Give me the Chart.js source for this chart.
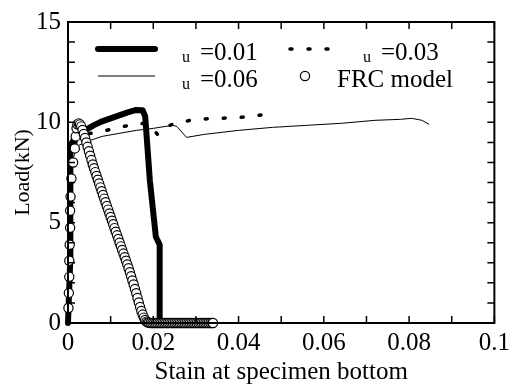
<!DOCTYPE html>
<html>
<head>
<meta charset="utf-8">
<script src="https://cdn.jsdelivr.net/npm/chart.js@4"></script>
<style>
  html, body { margin: 0; padding: 0; background: #fff; }
  #wrap { width: 515px; height: 391px; }
</style>
</head>
<body>
<div id="wrap"><canvas id="loadChart"></canvas></div>
<script>
// u = 0.01 (thick line)
const strain001 = [0, 0.0005, 0.0005, 0.0006, 0.0010, 0.0020, 0.0040, 0.0060, 0.0080, 0.0100, 0.0120, 0.0140, 0.0160, 0.0175, 0.0181, 0.0192, 0.0206, 0.0215, 0.0215];
const load001   = [0, 3.0, 6.5, 8.5, 9.0, 9.35, 9.6, 9.85, 10.05, 10.2, 10.35, 10.5, 10.62, 10.6, 10.3, 7.1, 4.3, 3.9, 0];

// u = 0.03 (dotted)
const strain003 = [0, 0.0005, 0.0010, 0.0020, 0.0040, 0.0080, 0.0120, 0.0168, 0.0190, 0.0210, 0.0222, 0.0250, 0.0300, 0.0355, 0.0407, 0.0465];
const load003   = [0, 5.0, 8.5, 9.1, 9.4, 9.55, 9.75, 9.95, 9.9, 9.4, 9.7, 9.95, 10.15, 10.2, 10.25, 10.4];

// u = 0.06 (thin line)
const strain006 = [0, 0.0004, 0.0010, 0.0020, 0.0045, 0.0080, 0.0120, 0.0160, 0.0200, 0.0245, 0.0255, 0.0278, 0.0320, 0.0400, 0.0480, 0.0560, 0.0640, 0.0720, 0.0780, 0.0806, 0.0830, 0.0847];
const load006   = [0, 4.0, 8.0, 8.8, 9.05, 9.3, 9.45, 9.6, 9.7, 9.85, 9.8, 9.25, 9.4, 9.6, 9.75, 9.85, 9.95, 10.1, 10.15, 10.2, 10.1, 9.9];

// FRC model (open circles)
const strainFRC = [0.0001, 0.0002, 0.0003, 0.0003, 0.0004, 0.0005, 0.0005, 0.0006, 0.0008, 0.0012, 0.0016, 0.0018, 0.0020, 0.0022, 0.0025,
  0.0028, 0.0031, 0.0034, 0.0037, 0.0040, 0.0043, 0.0046, 0.0049, 0.0052, 0.0055, 0.0058, 0.0061, 0.0064, 0.0067, 0.0070,
  0.0073, 0.0076, 0.0079, 0.0082, 0.0085, 0.0088, 0.0091, 0.0094, 0.0097, 0.0100, 0.0103, 0.0106, 0.0109, 0.0112, 0.0115,
  0.0118, 0.0121, 0.0124, 0.0127, 0.0130, 0.0133, 0.0136, 0.0139, 0.0142, 0.0145, 0.0148, 0.0151, 0.0154, 0.0157, 0.0160,
  0.0163, 0.0166, 0.0169, 0.0172, 0.0175, 0.0178, 0.0181, 0.0184, 0.0187, 0.0190,
  0.0194, 0.0198, 0.0202, 0.0206, 0.0210, 0.0214, 0.0218, 0.0222, 0.0226, 0.0230, 0.0234, 0.0238, 0.0242, 0.0246, 0.0250,
  0.0254, 0.0258, 0.0262, 0.0266, 0.0270, 0.0274, 0.0278, 0.0282, 0.0286, 0.0290, 0.0294, 0.0298, 0.0302, 0.0306, 0.0310,
  0.0314, 0.0318, 0.0322, 0.0326, 0.0330, 0.0334, 0.0338, 0.0340];
const loadFRC = [0.75, 1.5, 2.3, 3.1, 3.9, 4.75, 5.6, 6.3, 7.2, 8.0, 8.7, 9.3, 9.7, 9.9, 9.95,
  9.9, 9.8, 9.62, 9.42, 9.22, 9.0, 8.78, 8.56, 8.34, 8.12, 7.9, 7.71, 7.52, 7.33, 7.14,
  6.95, 6.76, 6.57, 6.38, 6.2, 6.02, 5.83, 5.65, 5.46, 5.28, 5.1, 4.92, 4.73, 4.55, 4.37,
  4.19, 4.0, 3.82, 3.64, 3.46, 3.28, 3.1, 2.92, 2.73, 2.53, 2.33, 2.12, 1.92, 1.7, 1.48,
  1.25, 1.02, 0.8, 0.6, 0.42, 0.27, 0.15, 0.07, 0.03, 0.01,
  0, 0, 0, 0, 0, 0, 0, 0, 0, 0, 0, 0, 0, 0, 0,
  0, 0, 0, 0, 0, 0, 0, 0, 0, 0, 0, 0, 0, 0, 0,
  0, 0, 0, 0, 0, 0, 0, 0];

const xTickLabels = [0, 0.02, 0.04, 0.06, 0.08, 0.1];
const yTickLabels = [0, 5, 10, 15];
const xMinorTicks = [0, 0.01, 0.02, 0.03, 0.04, 0.05, 0.06, 0.07, 0.08, 0.09, 0.1];
const yMinorTicks = [0, 1, 2, 3, 4, 5, 6, 7, 8, 9, 10, 11, 12, 13, 14, 15];

const FONT = "'Liberation Serif', 'Times New Roman', serif";

function pts(xs, ys) {
    return xs.map((x, i) => ({ x: x, y: ys[i] }));
}

// box with inward ticks on all four sides
const framePlugin = {
    id: 'frame',
    afterDraw(chart) {
        const { ctx, chartArea: a, scales: { x, y } } = chart;
        ctx.save();
        ctx.strokeStyle = '#000';
        ctx.lineWidth = 1.5;
        ctx.beginPath();
        xMinorTicks.forEach(v => {
            const px = x.getPixelForValue(v);
            ctx.moveTo(px, a.bottom); ctx.lineTo(px, a.bottom - 7);
            ctx.moveTo(px, a.top); ctx.lineTo(px, a.top + 7);
        });
        yMinorTicks.forEach(v => {
            const py = y.getPixelForValue(v);
            ctx.moveTo(a.left, py); ctx.lineTo(a.left + 7, py);
            ctx.moveTo(a.right, py); ctx.lineTo(a.right - 7, py);
        });
        ctx.stroke();
        ctx.lineWidth = 2;
        ctx.strokeRect(a.left, a.top, a.right - a.left, a.bottom - a.top);
        ctx.restore();
    }
};

// legend inside the plot, with subscript "u"
const legendPlugin = {
    id: 'innerLegend',
    afterDraw(chart) {
        const ctx = chart.ctx;
        const items = [
            { ds: 0, x: 98, y: 49, label: '=0.01' },
            { ds: 1, x: 290, y: 49, label: '=0.03' },
            { ds: 2, x: 98, y: 76, label: '=0.06' },
            { ds: 3, x: 290, y: 76, label: 'FRC model' }
        ];
        ctx.save();
        items.forEach(it => {
            const d = chart.data.datasets[it.ds];
            let textX;
            if (d.showLine) {
                ctx.strokeStyle = d.borderColor;
                ctx.lineWidth = d.borderWidth;
                ctx.setLineDash(d.borderDash || []);
                ctx.lineCap = d.borderCapStyle || 'butt';
                ctx.beginPath();
                ctx.moveTo(it.x, it.y);
                ctx.lineTo(it.x + (d.borderDash ? 40 : 57), it.y);
                ctx.stroke();
                ctx.setLineDash([]);
                textX = it.x + (it.x < 200 ? 84 : 73);
            } else {
                ctx.beginPath();
                ctx.arc(it.x + 15, it.y, d.pointRadius, 0, Math.PI * 2);
                ctx.fillStyle = '#fff';
                ctx.fill();
                ctx.strokeStyle = '#000';
                ctx.lineWidth = 1.2;
                ctx.stroke();
                textX = it.x + 47;
            }
            ctx.fillStyle = '#000';
            ctx.textBaseline = 'alphabetic';
            if (d.showLine) {
                ctx.font = '16px ' + FONT;
                ctx.fillText('u', textX, it.y + 13);
                textX += 18;
            }
            ctx.font = '25px ' + FONT;
            ctx.fillText(it.label, textX, it.y + 11);
        });
        ctx.restore();
    }
};

function renderLoadChart() {
    const ctx = document.getElementById('loadChart').getContext('2d');

    new Chart(ctx, {
        type: 'scatter',
        data: {
            datasets: [
                {
                    label: 'u=0.01',
                    data: pts(strain001, load001),
                    showLine: true,
                    borderColor: '#000',
                    borderWidth: 6,
                    borderJoinStyle: 'round',
                    borderCapStyle: 'round',
                    pointRadius: 0,
                    clip: false,
                    order: 1
                },
                {
                    label: 'u=0.03',
                    data: pts(strain003, load003),
                    showLine: true,
                    borderColor: '#000',
                    borderWidth: 3.5,
                    borderDash: [2, 16],
                    borderCapStyle: 'round',
                    pointRadius: 0,
                    clip: false,
                    order: 2
                },
                {
                    label: 'u=0.06',
                    data: pts(strain006, load006),
                    showLine: true,
                    borderColor: '#000',
                    borderWidth: 1,
                    pointRadius: 0,
                    clip: false,
                    order: 3
                },
                {
                    label: 'FRC model',
                    data: pts(strainFRC, loadFRC),
                    showLine: false,
                    pointRadius: 4.6,
                    pointBackgroundColor: '#fff',
                    pointBorderColor: '#000',
                    pointBorderWidth: 1.2,
                    clip: false,
                    order: 0
                }
            ]
        },
        options: {
            responsive: true,
            maintainAspectRatio: false,
            animation: false,
            layout: { padding: { top: 20, right: 19, left: 0, bottom: 0 } },
            plugins: {
                legend: { display: false },
                tooltip: { enabled: false }
            },
            scales: {
                x: {
                    type: 'linear',
                    min: 0,
                    max: 0.1,
                    grid: { display: false, drawTicks: false },
                    border: { display: false },
                    afterBuildTicks: s => { s.ticks = xTickLabels.map(v => ({ value: v })); },
                    afterFit: s => { s.height = 68; },
                    ticks: {
                        color: '#000',
                        padding: 5,
                        maxRotation: 0,
                        font: { family: FONT, size: 25 },
                        callback: v => String(+v.toFixed(2))
                    },
                    title: {
                        display: true,
                        text: 'Stain at specimen bottom',
                        color: '#000',
                        font: { family: FONT, size: 25 },
                        padding: { top: 0, bottom: 4 }
                    }
                },
                y: {
                    min: 0,
                    max: 15,
                    grid: { display: false, drawTicks: false },
                    border: { display: false },
                    afterBuildTicks: s => { s.ticks = yTickLabels.map(v => ({ value: v })); },
                    afterFit: s => { s.width = 68; },
                    ticks: {
                        color: '#000',
                        padding: 7,
                        font: { family: FONT, size: 25 }
                    },
                    title: {
                        display: true,
                        text: 'Load(kN)',
                        color: '#000',
                        font: { family: FONT, size: 22 },
                        padding: { top: 10, bottom: 0 }
                    }
                }
            }
        },
        plugins: [framePlugin, legendPlugin]
    });
}

document.addEventListener("DOMContentLoaded", () => {
    renderLoadChart();
});
</script>
</body>
</html>
